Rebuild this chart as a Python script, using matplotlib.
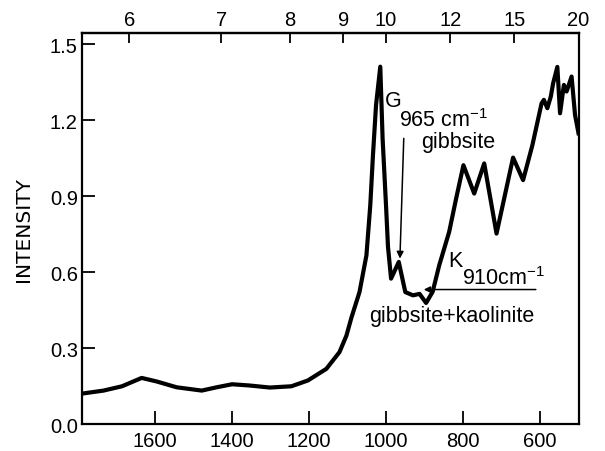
import matplotlib
matplotlib.use("Agg")
import matplotlib.pyplot as plt

plt.rcParams['font.family'] = ['Liberation Sans', 'DejaVu Sans']
plt.rcParams['mathtext.fontset'] = 'custom'
plt.rcParams['mathtext.rm'] = 'Liberation Sans'
plt.rcParams['mathtext.it'] = 'Liberation Sans'

# IR spectrum (wavenumber in cm-1, intensity)
wavenumber = [1795, 1734, 1686, 1635, 1596, 1544, 1479, 1440, 1400, 1354,
              1302, 1246, 1203, 1155, 1121, 1103, 1090, 1069, 1051, 1041,
              1034, 1026, 1015, 1009, 1000, 995, 987, 967, 950, 930,
              913, 896, 879, 862, 836, 818, 799, 771, 745, 713,
              670, 644, 620, 596, 590, 581, 572, 566, 555, 548,
              538, 531, 518, 509, 500]
intensity = [0.119, 0.132, 0.149, 0.182, 0.168, 0.145, 0.132, 0.145, 0.157, 0.152,
             0.144, 0.149, 0.172, 0.218, 0.284, 0.349, 0.420, 0.521, 0.666, 0.864,
             1.062, 1.260, 1.411, 1.128, 0.860, 0.700, 0.574, 0.640, 0.521, 0.508,
             0.514, 0.478, 0.522, 0.626, 0.759, 0.890, 1.022, 0.910, 1.029, 0.752,
             1.052, 0.963, 1.100, 1.266, 1.280, 1.247, 1.293, 1.345, 1.410, 1.227,
             1.339, 1.313, 1.372, 1.220, 1.148]

bottom_ticks = [1600, 1400, 1200, 1000, 800, 600]
y_ticks = [0.0, 0.3, 0.6, 0.9, 1.2, 1.5]
y_labels = ['0.0', '0.3', '0.6', '0.9', '1.2', '1.5']
top_ticks = [6, 7, 8, 9, 10, 12, 15, 20]  # wavelength, micrometres

fig = plt.figure(figsize=(6.05, 4.52), dpi=100)
ax = fig.add_axes([0.1355, 0.0597, 0.822, 0.8651])

ax.plot(wavenumber, intensity, color='black', lw=3.0, solid_joinstyle='round')

ax.set_xlim(1790, 498)
ax.set_ylim(0, 1.544)
ax.set_xticks(bottom_ticks)
ax.set_yticks(y_ticks)
ax.set_yticklabels(y_labels)
ax.tick_params(axis='x', direction='in', length=9.5, width=1.3, labelsize=14.5, pad=5)
ax.tick_params(axis='y', direction='in', length=9, width=1.3, labelsize=14.5, pad=3)
for s in ax.spines.values():
    s.set_linewidth(1.6)

ax.set_ylabel('INTENSITY', fontsize=14.5, family=['DejaVu Sans'])
ax.yaxis.set_label_coords(-0.098, 0.5)

inv = lambda x: 1e4 / x
top = ax.secondary_xaxis('top', functions=(inv, inv))
top.set_xticks(top_ticks)
top.set_xticklabels([str(t) for t in top_ticks])
top.tick_params(direction='in', length=7, width=1.3, labelsize=14.5, pad=3)
top.minorticks_off()
top.spines['top'].set_linewidth(1.6)

# annotations
fs = 15.5
ax.text(982, 1.278, 'G', fontsize=fs, ha='center', va='center')
ax.text(966, 1.203, r'965 cm$^{-1}$', fontsize=fs, ha='left', va='center')
ax.text(812, 1.116, 'gibbsite', fontsize=fs, ha='center', va='center')
ax.annotate('', xy=(964, 0.653), xytext=(954, 1.128),
            arrowprops=dict(arrowstyle='-|>', color='black', lw=1.1,
                            mutation_scale=10, shrinkA=0, shrinkB=0))

ax.text(820, 0.645, 'K', fontsize=fs, ha='center', va='center')
ax.text(802, 0.578, r'910cm$^{-1}$', fontsize=fs, ha='left', va='center')
ax.annotate('', xy=(902, 0.531), xytext=(611, 0.531),
            arrowprops=dict(arrowstyle='-|>', color='black', lw=1.1,
                            mutation_scale=9, shrinkA=0, shrinkB=0))
ax.text(830, 0.427, 'gibbsite+kaolinite', fontsize=fs, ha='center', va='center')

fig.savefig('out.png', dpi=100)
